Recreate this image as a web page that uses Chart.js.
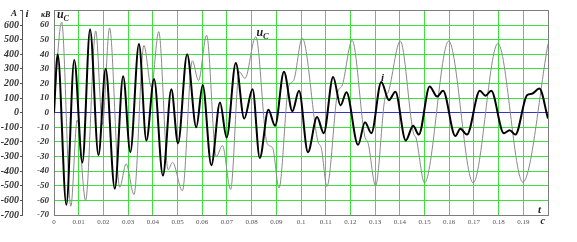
<!DOCTYPE html>
<html>
<head>
<meta charset="utf-8">
<script src="https://cdn.jsdelivr.net/npm/chart.js@4.4.0/dist/chart.umd.min.js"></script>
<style>
  html, body { margin: 0; padding: 0; background: #fff; }
  #wrap { width: 577px; height: 242px; }
</style>
</head>
<body>
<div id="wrap"><canvas id="osc" width="577" height="242"></canvas></div>
<script>
// current i, A (thick black) — times in s
const iTime = [0, 0.0015, 0.0050, 0.0082, 0.0115, 0.0146, 0.0180, 0.0209, 0.0246, 0.0280,
  0.0309, 0.0344, 0.0374, 0.0405, 0.0441, 0.0475, 0.0502, 0.0539, 0.0576, 0.0602,
  0.0637, 0.0672, 0.0699, 0.0736, 0.0770, 0.0804, 0.0833, 0.0868, 0.0895, 0.0931,
  0.0965, 0.0992, 0.1028, 0.1065, 0.1092, 0.1130, 0.1160, 0.1184, 0.1231, 0.1259,
  0.1285, 0.1325, 0.1356, 0.1382, 0.1424, 0.1454, 0.1477, 0.1521, 0.1551, 0.1575,
  0.1625, 0.1645, 0.1672, 0.1724, 0.1747, 0.1770, 0.1821, 0.1845, 0.1868, 0.1915,
  0.1935, 0.1965, 0.2000];
const iAmps = [0, 400, -630, 360, -340, 570, -290, 300, -520, 250,
  -270, 470, -190, 230, -430, 160, -210, 400, -100, 190,
  -360, 70, -170, 340, -40, 160, -310, 20, -90, 280,
  10, 150, -270, -30, -140, 245, 50, 140, -220, -66,
  -140, 210, 86, 143, -190, -90, -150, 180, 110, 150,
  -160, -110, -150, 150, 116, 150, -140, -120, -150, 120,
  130, 165, -40];

// capacitor voltage u_C, kV (thin grey)
const ucTime = [0, 0.0031, 0.0068, 0.0094, 0.0128, 0.0169, 0.0196, 0.0225, 0.0266, 0.0292,
  0.0324, 0.0364, 0.0394, 0.0424, 0.0462, 0.0480, 0.0520, 0.0560, 0.0585, 0.0618,
  0.0657, 0.0682, 0.0715, 0.0750, 0.0773, 0.0817, 0.0863, 0.0885, 0.0911, 0.0950,
  0.0970, 0.1005, 0.1069, 0.1082, 0.1105, 0.1150, 0.1165, 0.1207, 0.1258, 0.1272,
  0.1302, 0.1340, 0.1353, 0.1402, 0.1454, 0.1467, 0.1500, 0.1598, 0.1697, 0.1797,
  0.1898, 0.2000];
const ucKv = [5, 62, -64, -5, -60, 56, -8, 58, -51, -35,
  -56, 46, 17.5, 55.5, -39, -34, -53.4, 35.5, 22, 53,
  -30, -22.5, -52.5, 28, 23.5, 52, -21, -24, -51.5, 18,
  22, 51, -20, -24, -50.5, 15, 18, 49.5, -16, -21,
  -50, 10, 14, 49, -13, -18, -48, 49, -48, 47.3,
  -47.5, 47];

const tMin = 0, tMax = 0.2, tStep = 0.01;
const kvMin = -70, kvMax = 70, kvStep = 10;
const ampMin = -700, ampMax = 700, ampStep = 100;

const GRID_GREEN = 'rgb(60,225,60)';
const ZERO_BLUE  = '#3434c8';
const FRAME      = '#7c7c7c';

const pts = (xs, ys) => xs.map((x, k) => ({ x, y: ys[k] }));

const serifBI = size => ({ family: '"Liberation Serif", "Times New Roman", serif', size, style: 'italic', weight: 'bold' });

const oscLabels = {
  id: 'oscLabels',
  afterDraw(chart) {
    const { ctx, chartArea: a } = chart;
    ctx.save();
    // top + right frame
    ctx.strokeStyle = FRAME;
    ctx.lineWidth = 1;
    ctx.beginPath();
    ctx.moveTo(a.left, Math.round(a.top) + 0.5);
    ctx.lineTo(Math.round(a.right) + 0.5, Math.round(a.top) + 0.5);
    ctx.lineTo(Math.round(a.right) + 0.5, a.bottom);
    ctx.stroke();

    ctx.fillStyle = '#222';
    ctx.textBaseline = 'alphabetic';
    const txt = (s, x, y, px) => {
      ctx.font = `italic bold ${px}px "Liberation Serif", serif`;
      ctx.fillText(s, x, y);
    };
    // axis captions
    txt('A', 11, 15.5, 9);
    txt('i', 25.5, 17, 11);
    txt('кВ', 41, 17, 8);
    txt('u', 57, 17.5, 12);
    txt('C', 63.5, 20.5, 8);
    // curve captions
    txt('u', 256.5, 36.3, 12);
    txt('C', 263, 38.5, 8.5);
    txt('i', 381, 80.7, 11);
    // time axis
    txt('t', 538, 213, 11);
    txt('c', 540.5, 224, 10);
    ctx.restore();
  }
};

new Chart(document.getElementById('osc'), {
  type: 'line',
  data: {
    datasets: [
      {
        label: 'i',
        data: pts(iTime, iAmps),
        yAxisID: 'yA',
        borderColor: '#000',
        borderWidth: 2,
        pointRadius: 0,
        fill: false,
        cubicInterpolationMode: 'monotone',
      },
      {
        label: 'uC',
        data: pts(ucTime, ucKv),
        yAxisID: 'yKV',
        borderColor: '#8a8a8a',
        borderWidth: 1,
        pointRadius: 0,
        fill: false,
        cubicInterpolationMode: 'monotone',
      },
    ]
  },
  options: {
    responsive: false,
    animation: false,
    devicePixelRatio: 1,
    events: [],
    layout: { padding: { top: 9, right: 29, bottom: 0, left: 0 } },
    plugins: { legend: { display: false }, tooltip: { enabled: false } },
    scales: {
      x: {
        type: 'linear',
        min: tMin, max: tMax,
        afterFit: s => { s.height = 27; },
        grid: { color: GRID_GREEN, lineWidth: 1, drawTicks: false },
        border: { display: true, color: FRAME },
        ticks: {
          stepSize: tStep,
          autoSkip: false,
          maxRotation: 0,
          padding: 3,
          color: '#555',
          font: { family: '"Liberation Serif", serif', size: 7 },
          callback: v => (Math.abs(v - tMax) < 1e-9 ? '' : String(Math.round(v * 100) / 100)),
        },
      },
      yKV: {
        type: 'linear',
        position: 'left',
        weight: 0,
        min: kvMin, max: kvMax,
        afterFit: s => { s.width = 32; },
        grid: {
          drawTicks: false,
          lineWidth: 1,
          color: c => (c.tick && c.tick.value === 0 ? ZERO_BLUE : GRID_GREEN),
        },
        border: { display: true, color: FRAME },
        ticks: {
          stepSize: kvStep,
          autoSkip: false,
          padding: 5,
          color: '#333',
          font: serifBI(9),
          callback: v => (v === kvMax ? '' : v),
        },
      },
      yA: {
        type: 'linear',
        position: 'left',
        weight: 1,
        min: ampMin, max: ampMax,
        afterFit: s => { s.width = 22; },
        grid: { drawOnChartArea: false, tickLength: 2, color: '#555' },
        border: { display: true, color: '#555' },
        ticks: {
          stepSize: ampStep,
          autoSkip: false,
          padding: 1,
          color: '#333',
          font: serifBI(10),
          callback: v => (v === ampMax ? '' : v),
        },
      },
    },
  },
  plugins: [oscLabels],
});
</script>
</body>
</html>
